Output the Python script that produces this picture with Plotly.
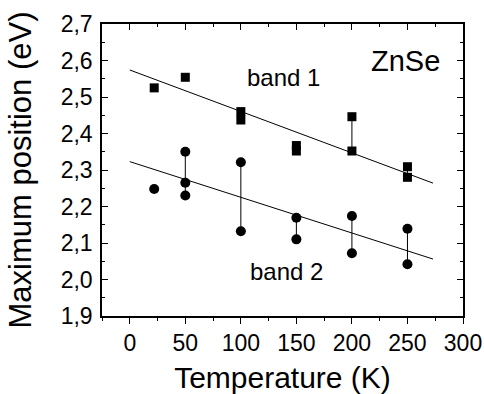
import plotly.graph_objects as go

# Band 1 (squares)
temps_b1 = [22, 50, 100, 100, 150, 150, 200, 200, 250, 250]
energy_b1 = [2.525, 2.554, 2.460, 2.437, 2.367, 2.352, 2.446, 2.352, 2.309, 2.280]
# Band 2 (circles)
temps_b2 = [22, 50, 50, 50, 100, 100, 150, 150, 200, 200, 250, 250]
energy_b2 = [2.248, 2.350, 2.265, 2.230, 2.321, 2.132, 2.169, 2.110, 2.174, 2.072, 2.139, 2.042]
# Linear fits
fit_t = [0, 273]
fit_b1 = [2.574, 2.264]
fit_b2 = [2.323, 2.056]

labels = ["band 1", "band 2", "ZnSe"]
label_x = [138, 141, 248]
label_y = [2.554, 2.021, 2.600]
label_size = [24, 24, 29]

FONT = "Liberation Sans, Arial, sans-serif"


def grouped(ts, es):
    xs, ys = [], []
    prev = None
    for t, e in zip(ts, es):
        if prev is not None and t != prev:
            xs.append(None)
            ys.append(None)
        xs.append(t)
        ys.append(e)
        prev = t
    return xs, ys


fig = go.Figure()
x1, y1 = grouped(temps_b1, energy_b1)
x2, y2 = grouped(temps_b2, energy_b2)
fig.add_trace(go.Scatter(x=x1, y=y1, mode="lines+markers", connectgaps=False,
                         line=dict(color="black", width=1),
                         marker=dict(symbol="square", size=9, color="black"),
                         showlegend=False))
fig.add_trace(go.Scatter(x=x2, y=y2, mode="lines+markers", connectgaps=False,
                         line=dict(color="black", width=1),
                         marker=dict(symbol="circle", size=10, color="black"),
                         showlegend=False))
fig.add_trace(go.Scatter(x=fit_t, y=fit_b1, mode="lines", xaxis="x2",
                         line=dict(color="black", width=1), showlegend=False))
fig.add_trace(go.Scatter(x=fit_t, y=fit_b2, mode="lines", xaxis="x2",
                         line=dict(color="black", width=1), showlegend=False))

for txt, lx, ly, ls in zip(labels, label_x, label_y, label_size):
    fig.add_annotation(x=lx, y=ly, text=txt, showarrow=False,
                       font=dict(family=FONT, size=ls, color="black"))

fig.update_layout(
    width=484, height=394,
    margin=dict(l=102, r=21, t=24, b=78, autoexpand=False),
    paper_bgcolor="white", plot_bgcolor="white",
    separators=",.",
    font=dict(family=FONT, color="black"),
    xaxis=dict(range=[-25, 300], tick0=0, dtick=50, ticks="outside", ticklen=6,
               tickwidth=1.2, tickcolor="black", showline=True, linecolor="black",
               linewidth=1.5, showgrid=False, zeroline=False, automargin=False,
               tickfont=dict(size=23), ticklabelstandoff=0,
               minor=dict(dtick=25, ticks="outside", ticklen=3, tickcolor="black", tickwidth=1.2),
               title=dict(text="Temperature (K)", font=dict(size=30), standoff=24)),
    xaxis2=dict(range=[-25, 300], overlaying="x", side="top", matches="x",
                tick0=0, dtick=50, ticks="inside", ticklen=6, tickwidth=1.2,
                tickcolor="black", showline=True, linecolor="black", linewidth=1.5,
                showticklabels=False, showgrid=False, zeroline=False,
                minor=dict(dtick=25, ticks="inside", ticklen=3, tickcolor="black", tickwidth=1.2)),
    yaxis=dict(range=[1.9, 2.7], dtick=0.1, tickformat=".1f", ticks="inside",
               ticklen=6, tickwidth=1.2, tickcolor="black", showline=True,
               linecolor="black", linewidth=1.5, mirror="ticks", showgrid=False,
               zeroline=False, automargin=False, tickfont=dict(size=23), ticklabelstandoff=3,
               minor=dict(dtick=0.05, ticks="inside", ticklen=3, tickcolor="black", tickwidth=1.2),
               title=dict(text="Maximum position (eV)", font=dict(size=31), standoff=20)),
)

fig.write_html("out.html", config={"responsive": False, "displayModeBar": False},
               post_script="document.body.style.margin='0';document.body.style.padding='0';")
